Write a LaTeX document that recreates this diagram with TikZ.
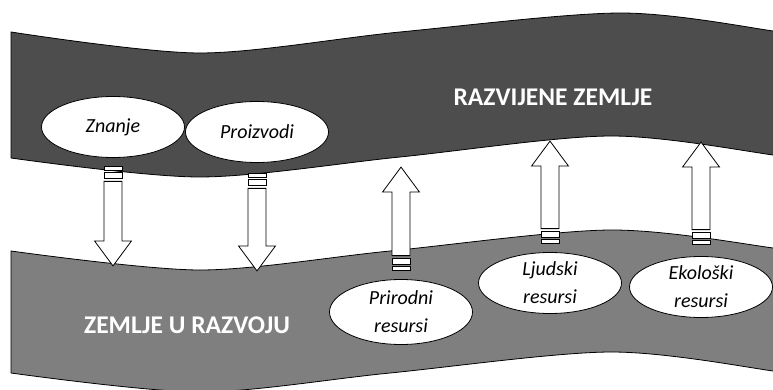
\documentclass[tikz,border=0pt]{standalone}
\usepackage{fontspec}
\setmainfont{Carlito}
\usepackage{xcolor}
\definecolor{richgray}{HTML}{4D4D4D}
\definecolor{poorgray}{HTML}{7F7F7F}
\usepackage{tikz}
\usetikzlibrary{positioning, shapes.geometric}
\tikzset{
  pics/stripearrow/.style={code={
    \draw[arrowpart] (-9,0) rectangle (9,-3.5);
    \draw[arrowpart] (-9,-5.5) rectangle (9,-12);
    \draw[arrowpart] (-9,-14.5) -- (-9,{25-#1}) -- (-18.5,{25-#1}) -- (0,-#1)
      -- (18.5,{25-#1}) -- (9,{25-#1}) -- (9,-14.5) -- cycle;
  }}
}
\begin{document}
\begin{tikzpicture}[x=1pt, y=-1pt, line width=0.8pt,
    band/.style={draw=black, line join=round},
    res/.style={draw, ellipse, fill=white, minimum width=143pt, minimum height=61pt,
      inner sep=0pt, align=center, font=\itshape\fontsize{20}{28}\selectfont},
    arrowpart/.style={draw, fill=white},
    title/.style={text=white, font=\bfseries\fontsize{25.5}{30}\selectfont}]
  \clip (0,0) rectangle (773,390);
  % the two bands
  \draw[band, fill=richgray] plot[smooth] coordinates {(11,32) (200,53) (400,32) (620,13) (773,31) (810,40)}
    -- plot[smooth] coordinates {(810,163) (773,155) (610,136) (400,157) (200,177) (11,158)} -- cycle;
  \draw[band, fill=poorgray] plot[smooth] coordinates {(11,251) (200,270) (390,251) (610,230) (773,248) (810,257)}
    -- plot[smooth] coordinates {(810,380) (773,371) (610,352) (390,373) (200,392) (11,373)} -- cycle;
  \node[title] (rich) at (553,97) {RAZVIJENE ZEMLJE};
  \node[title] (poor) at (187,325) {ZEMLJE U RAZVOJU};
  % what goes down / up
  \node[res] (zn) at (113,127) {Znanje};
  \node[res] (pz) at (257,132) {Proizvodi};
  \node[res, minimum height=65pt] (pn) at (401,312) {Prirodni\\resursi};
  \node[res] (lj) at (550,283) {Ljudski\\resursi};
  \node[res] (ek) at (701,287) {Ekološki\\resursi};
  \pic[yscale=-1] at ([yshift=-9pt]zn.south) {stripearrow=99};
  \pic[yscale=-1] at ([yshift=-11pt]pz.south) {stripearrow=97};
  \pic at ([yshift=9pt]pn.north) {stripearrow=103};
  \pic at ([yshift=9pt]lj.north) {stripearrow=102};
  \pic at ([yshift=12pt]ek.north) {stripearrow=102};
\end{tikzpicture}
\end{document}
